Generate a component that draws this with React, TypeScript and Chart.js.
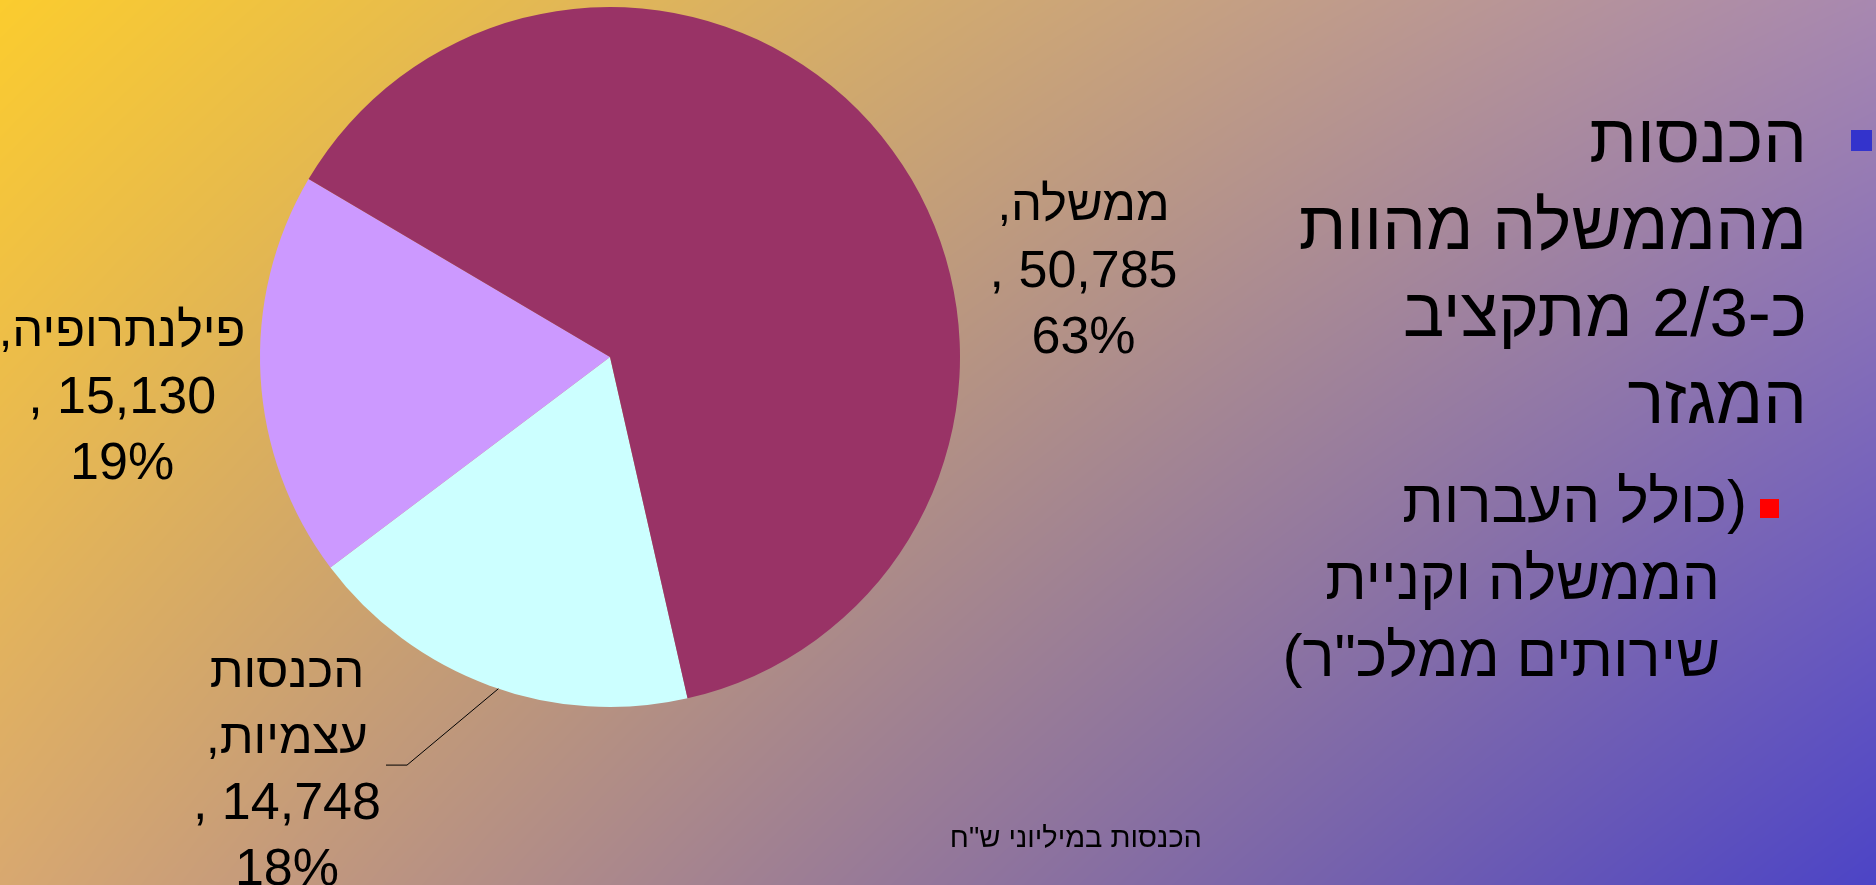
import React, { useEffect, useRef } from "react";
import { Chart, registerables } from "chart.js";

Chart.register(...registerables);

// ---- data ----
const categories = ["הכנסות עצמיות", "פילנתרופיה", "ממשלה"];
const values = [14748, 15130, 50785];
const sliceColors = ["#CCFFFF", "#CC99FF", "#993366"];
const bulletMain = ["הכנסות", "מהממשלה מהוות", "כ-2/3 מתקציב", "המגזר"];
const bulletSub = ["(כולל העברות", "הממשלה וקניית", "שירותים ממלכ\"ר)"];
const footnote = "הכנסות במיליוני ש\"ח";

// ---- layout (in units of the pie radius, relative to the pie centre) ----
const labelAnchors = [
  { dx: -0.923, dy: 0.903 },
  { dx: -1.394, dy: -0.069 },
  { dx: 1.353, dy: -0.43 },
];
const leader = { index: 0, frac: 0.477, elbowDx: -0.58, elbowDy: 1.166, endDx: -0.64 };

const W = 1876;
const H = 885;
const FONT = "'Liberation Sans', Arial, sans-serif";

// corner colours of the background (TL, TR, BL, BR)
const bgCorners = [
  [251, 204, 46],
  [168, 136, 176],
  [216, 168, 112],
  [76, 68, 198],
];

function makeBackground(): HTMLCanvasElement {
  const c = document.createElement("canvas");
  c.width = W;
  c.height = H;
  const g = c.getContext("2d")!;
  const img = g.createImageData(W, H);
  const d = img.data;
  const [tl, tr, bl, br] = bgCorners;
  for (let y = 0; y < H; y++) {
    const v = y / (H - 1);
    for (let x = 0; x < W; x++) {
      const u = x / (W - 1);
      const o = (y * W + x) * 4;
      for (let k = 0; k < 3; k++) {
        const top = tl[k] + (tr[k] - tl[k]) * u;
        const bot = bl[k] + (br[k] - bl[k]) * u;
        d[o + k] = top + (bot - top) * v;
      }
      d[o + 3] = 255;
    }
  }
  g.putImageData(img, 0, 0);
  return c;
}

export default function App() {
  const canvasRef = useRef<HTMLCanvasElement | null>(null);

  useEffect(() => {
    document.body.style.margin = "0";
    document.body.style.overflow = "hidden";
    const canvas = canvasRef.current;
    if (!canvas) return;
    const bg = makeBackground();
    const total = values.reduce((a, b) => a + b, 0);

    const bgPlugin = {
      id: "bgPlugin",
      beforeDraw(chart: any) {
        chart.ctx.save();
        chart.ctx.drawImage(bg, 0, 0);
        chart.ctx.restore();
      },
    };

    const labelPlugin = {
      id: "sliceLabels",
      afterDatasetsDraw(chart: any) {
        const ctx = chart.ctx as CanvasRenderingContext2D;
        const meta = chart.getDatasetMeta(0);
        meta.data.forEach((arc: any, i: number) => {
          const p = arc.getProps(["x", "y", "outerRadius", "startAngle", "endAngle"], true);
          const r = p.outerRadius;
          const words = categories[i].split(" ");
          const textLines = [...words.slice(0, -1), words[words.length - 1] + ","];
          const numLines = [
            values[i].toLocaleString("en-US") + " ,",
            Math.round((values[i] / total) * 100) + "%",
          ];
          const a = labelAnchors[i];
          const lx = p.x + a.dx * r;
          const ly = p.y + a.dy * r;
          ctx.save();
          ctx.fillStyle = "#000";
          ctx.textAlign = "center";
          ctx.textBaseline = "middle";
          (ctx as any).direction = "rtl";
          ctx.font = `49px ${FONT}`;
          textLines.forEach((t, j) => ctx.fillText(t, lx, ly + j * 66));
          ctx.font = `52px ${FONT}`;
          numLines.forEach((t, j) => ctx.fillText(t, lx, ly + (textLines.length + j) * 66));
          ctx.restore();

          if (i === leader.index) {
            const ang = p.startAngle + (p.endAngle - p.startAngle) * leader.frac;
            const sx = p.x + Math.cos(ang) * r;
            const sy = p.y + Math.sin(ang) * r;
            ctx.save();
            ctx.strokeStyle = "#000";
            ctx.lineWidth = 1;
            ctx.beginPath();
            ctx.moveTo(sx, sy);
            ctx.lineTo(p.x + leader.elbowDx * r, p.y + leader.elbowDy * r);
            ctx.lineTo(p.x + leader.endDx * r, p.y + leader.elbowDy * r);
            ctx.stroke();
            ctx.restore();
          }
        });
      },
    };

    const chart = new Chart(canvas, {
      type: "pie",
      data: {
        labels: categories,
        datasets: [
          {
            data: values,
            backgroundColor: sliceColors,
            borderWidth: 0,
            hoverOffset: 0,
            offset: 0,
          },
        ],
      },
      options: {
        responsive: false,
        animation: false,
        rotation: 167.2,
        layout: { padding: { left: 260, right: 916, top: 7, bottom: 178 } },
        plugins: {
          legend: { display: false },
          tooltip: { enabled: false },
        },
        events: [],
      },
      plugins: [bgPlugin, labelPlugin],
    } as any);

    return () => chart.destroy();
  }, []);

  const subLine = (l: string, i: number) => (
    <div key={i} style={{ marginRight: i === 0 ? 0 : 27 }}>
      {l}
    </div>
  );

  return (
    <div style={{ position: "relative", width: W, height: H, overflow: "hidden" }}>
      <canvas ref={canvasRef} width={W} height={H} style={{ display: "block" }} />
      <div
        style={{
          position: "absolute",
          left: 1851,
          top: 130,
          width: 21,
          height: 21,
          background: "#3333CC",
        }}
      />
      <div
        dir="rtl"
        style={{
          position: "absolute",
          right: 69,
          top: 95,
          textAlign: "right",
          fontFamily: FONT,
          fontSize: 69,
          lineHeight: "87px",
          color: "#000",
          whiteSpace: "nowrap",
        }}
      >
        {bulletMain.map((l, i) => (
          <div key={i}>{l}</div>
        ))}
      </div>
      <div
        style={{
          position: "absolute",
          left: 1760,
          top: 499,
          width: 19,
          height: 19,
          background: "#FF0000",
        }}
      />
      <div
        dir="rtl"
        style={{
          position: "absolute",
          right: 129,
          top: 463,
          textAlign: "right",
          fontFamily: FONT,
          fontSize: 60,
          lineHeight: "77px",
          color: "#000",
          whiteSpace: "nowrap",
        }}
      >
        {bulletSub.map(subLine)}
      </div>
      <div
        dir="rtl"
        style={{
          position: "absolute",
          right: 674,
          top: 820,
          fontFamily: FONT,
          fontSize: 29,
          lineHeight: "34px",
          color: "#000",
          whiteSpace: "nowrap",
        }}
      >
        {footnote}
      </div>
    </div>
  );
}
